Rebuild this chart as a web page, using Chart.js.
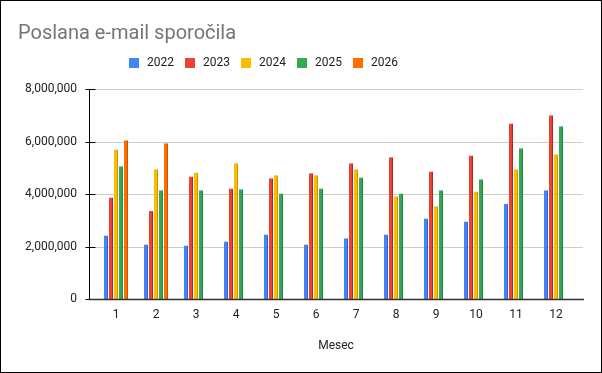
<!DOCTYPE html>
<html>
<head>
<meta charset="utf-8">
<script src="https://cdn.jsdelivr.net/npm/chart.js@4"></script>
<style>
  body { margin: 0; background: #fff; }
  #wrap { width: 602px; height: 373px; position: relative; }
</style>
</head>
<body>
<div id="wrap"><canvas id="chart"></canvas></div>
<script>
const chartTitle = 'Poslana e-mail sporočila';
const axisTitle = 'Mesec';
const months = ['1', '2', '3', '4', '5', '6', '7', '8', '9', '10', '11', '12'];
const years = ['2022', '2023', '2024', '2025', '2026'];
const v2022 = [2420000, 2080000, 2040000, 2190000, 2460000, 2080000, 2310000, 2460000, 3070000, 2950000, 3630000, 4140000];
const v2023 = [3870000, 3350000, 4670000, 4210000, 4600000, 4790000, 5170000, 5400000, 4860000, 5470000, 6690000, 7000000];
const v2024 = [5700000, 4940000, 4820000, 5170000, 4710000, 4710000, 4940000, 3910000, 3530000, 4100000, 4940000, 5510000];
const v2025 = [5060000, 4140000, 4140000, 4180000, 4020000, 4210000, 4630000, 4020000, 4140000, 4560000, 5740000, 6580000];
const v2026 = [6050000, 5930000, null, null, null, null, null, null, null, null, null, null];
const yTicks = [0, 2000000, 4000000, 6000000, 8000000];

const colors = ['#4285F4', '#EA4335', '#FBBC04', '#34A853', '#FF6D01'];
const edges = ['#3367D6', '#B3261E', '#C99600', '#1E8E3E', '#C75500'];

Chart.defaults.font.family = 'Roboto, Arial, sans-serif';
Chart.defaults.color = '#222';

const series = [v2022, v2023, v2024, v2025, v2026];
const datasets = series.map((data, i) => ({
    label: years[i],
    data: data,
    backgroundColor: colors[i],
    borderColor: edges[i],
    borderWidth: { left: 0, right: 1, top: 0, bottom: 0 },
    borderSkipped: false,
    categoryPercentage: 0.625,
    barPercentage: 0.8
}));

// gridlines, axes, title, legend and frame drawn by hand to match the sheet look
const decor = {
    id: 'decor',
    beforeDraw(chart) {
        const ctx = chart.ctx;
        ctx.save();
        ctx.fillStyle = '#fff';
        ctx.fillRect(0, 0, chart.width, chart.height);
        const y = chart.scales.y;
        const area = chart.chartArea;
        ctx.strokeStyle = '#cccccc';
        ctx.lineWidth = 1;
        yTicks.forEach(v => {
            if (v === 0) return;
            const py = Math.round(y.getPixelForValue(v)) + 0.5;
            ctx.beginPath();
            ctx.moveTo(area.left - 1, py);
            ctx.lineTo(area.right + 7, py);
            ctx.stroke();
        });
        ctx.restore();
    },
    afterDatasetsDraw(chart) {
        const ctx = chart.ctx;
        const y = chart.scales.y;
        const area = chart.chartArea;
        const ax = area.left - 6.5;
        ctx.save();
        ctx.strokeStyle = '#000';
        ctx.lineWidth = 1;
        ctx.beginPath();
        ctx.moveTo(ax, Math.round(y.getPixelForValue(yTicks[yTicks.length - 1])));
        ctx.lineTo(ax, Math.round(y.getPixelForValue(0)) + 1);
        ctx.stroke();
        yTicks.forEach(v => {
            const py = Math.round(y.getPixelForValue(v)) + 0.5;
            ctx.beginPath();
            ctx.moveTo(ax - 4, py);
            ctx.lineTo(v === 0 ? ax : ax + 6, py);
            ctx.stroke();
        });
        ctx.strokeStyle = '#333';
        ctx.lineWidth = 1.3;
        const by = Math.round(y.getPixelForValue(0)) + 0.5;
        ctx.beginPath();
        ctx.moveTo(ax, by);
        ctx.lineTo(area.right + 8, by);
        ctx.stroke();
        ctx.restore();
    },
    afterDraw(chart) {
        const ctx = chart.ctx;
        ctx.save();
        ctx.fillStyle = '#757575';
        ctx.font = '20px Roboto, Arial, sans-serif';
        ctx.textBaseline = 'alphabetic';
        ctx.textAlign = 'left';
        ctx.fillText(chartTitle, 18, 39);

        ctx.font = '12px Roboto, Arial, sans-serif';
        ctx.textBaseline = 'middle';
        let lx = 129;
        chart.data.datasets.forEach(ds => {
            ctx.fillStyle = ds.backgroundColor;
            ctx.fillRect(lx, 58, 10, 10);
            ctx.fillStyle = '#222';
            ctx.fillText(ds.label, lx + 18, 63);
            lx += 56;
        });

        ctx.strokeStyle = '#000';
        ctx.lineWidth = 1;
        ctx.strokeRect(0.5, 0.5, chart.width - 1, chart.height - 1);
        ctx.restore();
    }
};

new Chart(document.getElementById('chart'), {
    type: 'bar',
    data: { labels: months, datasets: datasets },
    options: {
        responsive: true,
        maintainAspectRatio: false,
        animation: false,
        layout: { padding: { top: 89, left: 0, right: 26, bottom: 0 } },
        plugins: {
            legend: { display: false },
            title: { display: false },
            tooltip: { enabled: false }
        },
        scales: {
            x: {
                grid: { display: false, drawTicks: false },
                border: { display: false },
                ticks: { padding: 9, color: '#222', font: { size: 12 } },
                title: { display: true, text: axisTitle, color: '#222', font: { size: 12 }, padding: { top: 0, bottom: 20 } },
                afterFit(scale) { scale.height = 74; }
            },
            y: {
                min: 0,
                max: 8000000,
                grid: { display: false, drawTicks: false },
                border: { display: false },
                afterBuildTicks(scale) { scale.ticks = yTicks.map(v => ({ value: v })); },
                ticks: {
                    padding: 19,
                    color: '#222',
                    font: { size: 12 },
                    callback: v => v.toLocaleString('en-US')
                },
                afterFit(scale) { scale.width = 96; }
            }
        }
    },
    plugins: [decor]
});
</script>
</body>
</html>
